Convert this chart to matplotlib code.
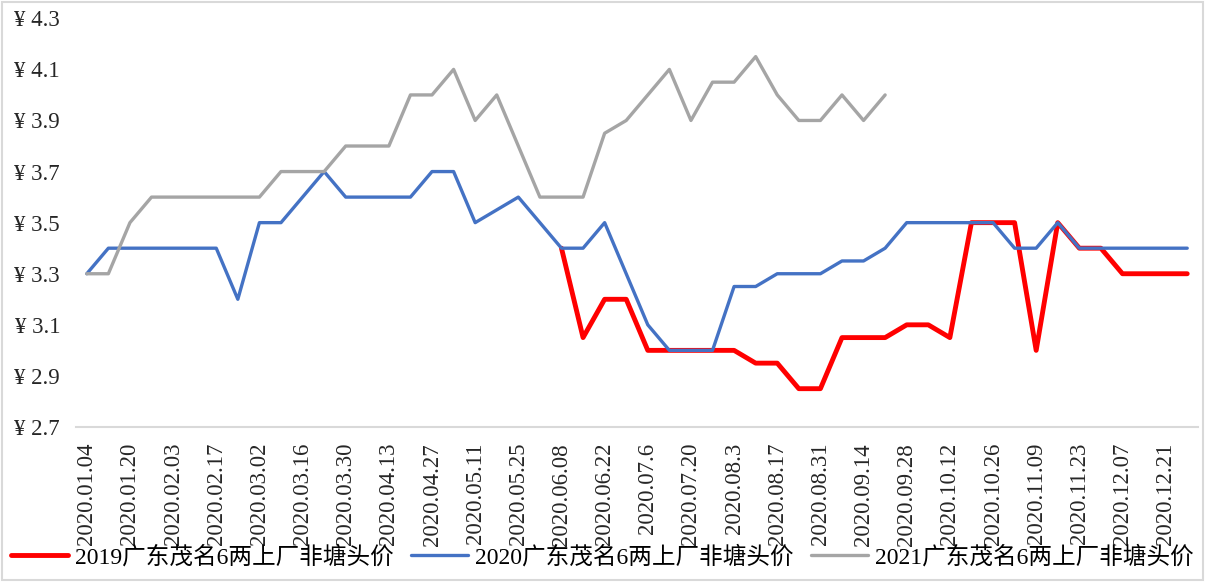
import numpy as np
import matplotlib
matplotlib.use("Agg")
import matplotlib.pyplot as plt
from matplotlib.patches import Rectangle

plt.rcParams['font.family'] = ['Liberation Serif', 'Noto Sans CJK SC', 'DejaVu Sans']

# 日期（每周）
dates = ["2020.01.04", "2020.01.13", "2020.01.20", "2020.01.27", "2020.02.03", "2020.02.10",
         "2020.02.17", "2020.02.24", "2020.03.02", "2020.03.09", "2020.03.16", "2020.03.23",
         "2020.03.30", "2020.04.06", "2020.04.13", "2020.04.20", "2020.04.27", "2020.05.04",
         "2020.05.11", "2020.05.18", "2020.05.25", "2020.06.01", "2020.06.08", "2020.06.15",
         "2020.06.22", "2020.06.29", "2020.07.6", "2020.07.13", "2020.07.20", "2020.07.27",
         "2020.08.3", "2020.08.10", "2020.08.17", "2020.08.24", "2020.08.31", "2020.09.07",
         "2020.09.14", "2020.09.21", "2020.09.28", "2020.10.05", "2020.10.12", "2020.10.19",
         "2020.10.26", "2020.11.02", "2020.11.09", "2020.11.16", "2020.11.23", "2020.11.30",
         "2020.12.07", "2020.12.14", "2020.12.21", "2020.12.28"]

nan = np.nan
price_2019 = [nan] * 22 + [3.4, 3.05, 3.2, 3.2, 3.0, 3.0, 3.0, 3.0, 3.0, 2.95,
                           2.95, 2.85, 2.85, 3.05, 3.05, 3.05, 3.1, 3.1, 3.05, 3.5,
                           3.5, 3.5, 3.0, 3.5, 3.4, 3.4, 3.3, 3.3, 3.3, 3.3]
price_2020 = [3.3, 3.4, 3.4, 3.4, 3.4, 3.4, 3.4, 3.2, 3.5, 3.5, 3.6, 3.7, 3.6,
              3.6, 3.6, 3.6, 3.7, 3.7, 3.5, 3.55, 3.6, 3.5, 3.4, 3.4, 3.5, 3.3,
              3.1, 3.0, 3.0, 3.0, 3.25, 3.25, 3.3, 3.3, 3.3, 3.35, 3.35, 3.4, 3.5,
              3.5, 3.5, 3.5, 3.5, 3.4, 3.4, 3.5, 3.4, 3.4, 3.4, 3.4, 3.4, 3.4]
price_2021 = [3.3, 3.3, 3.5, 3.6, 3.6, 3.6, 3.6, 3.6, 3.6, 3.7, 3.7, 3.7, 3.8,
              3.8, 3.8, 4.0, 4.0, 4.1, 3.9, 4.0, 3.8, 3.6, 3.6, 3.6, 3.85, 3.9,
              4.0, 4.1, 3.9, 4.05, 4.05, 4.15, 4.0, 3.9, 3.9, 4.0, 3.9, 4.0] + [nan] * 14

labels = ["2019广东茂名6两上厂非塘头价", "2020广东茂名6两上厂非塘头价", "2021广东茂名6两上厂非塘头价"]
yticks = [2.7, 2.9, 3.1, 3.3, 3.5, 3.7, 3.9, 4.1, 4.3]

fig = plt.figure(figsize=(12.05, 5.82), dpi=100)
ax = fig.add_axes([76 / 1205, 155 / 582, 1122 / 1205, 408.7 / 582])

x = np.arange(len(dates))
ax.plot(x, price_2019, color='#FF0000', lw=3.5, label=labels[0], solid_capstyle='round')
ax.plot(x, price_2020, color='#4472C4', lw=2.4, label=labels[1], solid_capstyle='round')
ax.plot(x, price_2021, color='#A5A5A5', lw=2.4, label=labels[2], solid_capstyle='round')

ax.set_xlim(-0.5, len(dates) - 0.5)
ax.set_ylim(2.7, 4.3)
ax.set_yticks(yticks)
ax.set_yticklabels([f"¥ {v:.1f}" for v in yticks], fontsize=16.5, color='#262626')
ax.set_xticks(x[::2])
ax.set_xticklabels(dates[::2], rotation=90, fontsize=16.5, color='#262626')
ax.tick_params(axis='both', length=0)
ax.tick_params(axis='y', pad=11.5)
ax.tick_params(axis='x', pad=11.5)

for s in ['top', 'right', 'left']:
    ax.spines[s].set_visible(False)
ax.spines['bottom'].set_color('#D9D9D9')
ax.spines['bottom'].set_linewidth(1.5)

fig.legend(loc='center', bbox_to_anchor=(0.5, 1 - 557 / 582), ncol=3, frameon=False,
           fontsize=17, handlelength=2.4, handletextpad=0.3, columnspacing=0.75)

fig.patches.append(Rectangle((0.002, 0.003), 0.996, 0.994, transform=fig.transFigure,
                             fill=False, edgecolor='#D9D9D9', lw=1.5))

fig.savefig("out.png", dpi=100)
